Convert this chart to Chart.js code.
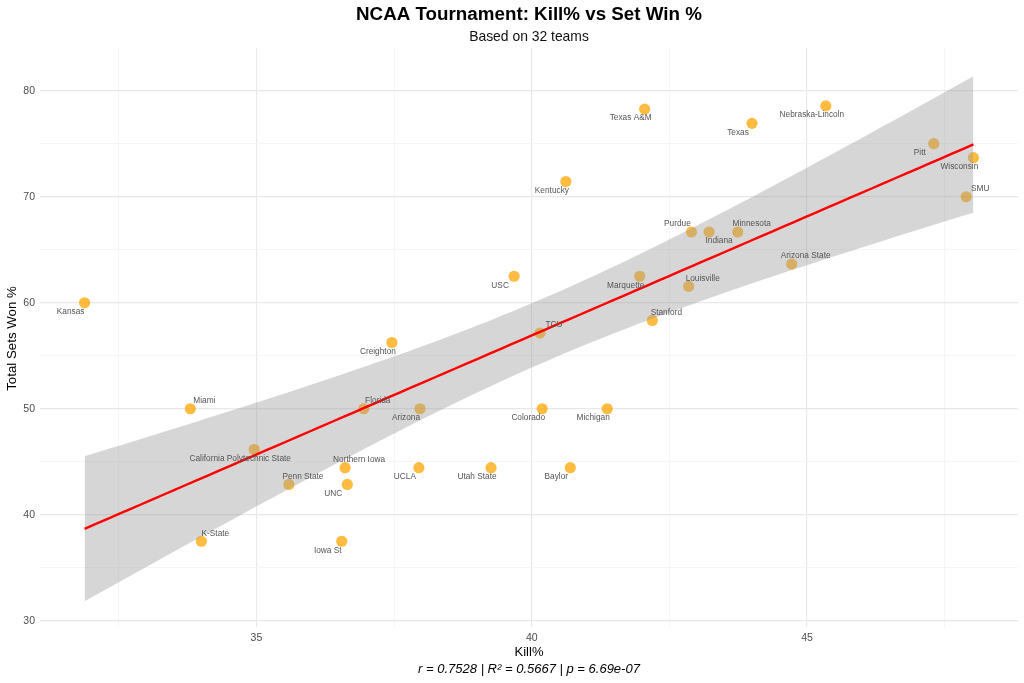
<!DOCTYPE html>
<html>
<head>
<meta charset="utf-8">
<script src="https://cdn.jsdelivr.net/npm/chart.js@4.4.1/dist/chart.umd.min.js"></script>
<style>
  html, body { margin: 0; padding: 0; background: #ffffff; }
  #wrap { width: 1024px; height: 683px; }
  canvas { display: block; }
</style>
</head>
<body>
<div id="wrap"><canvas id="c" width="1024" height="683"></canvas></div>
<script>
// ---------------- DATA ----------------
const teams = [
  "Kansas", "Creighton", "Miami", "California Polytechnic State", "Florida",
  "Northern Iowa", "Penn State", "UNC", "K-State", "Iowa St",
  "Arizona", "Colorado", "Michigan", "UCLA", "Utah State", "Baylor",
  "Texas A&M", "Texas", "Kentucky", "Purdue", "Indiana", "Minnesota",
  "USC", "Marquette", "Louisville", "Stanford", "TCU",
  "Nebraska-Lincoln", "Pitt", "Wisconsin", "SMU", "Arizona State"
];
const killPct = [
  31.88, 37.46, 33.80, 34.96, 36.95,
  36.61, 35.59, 36.65, 34.00, 36.55,
  37.97, 40.19, 41.37, 37.95, 39.26, 40.70,
  42.05, 44.00, 40.62, 42.90, 43.22, 43.74,
  39.68, 41.96, 42.85, 42.19, 40.15,
  45.34, 47.30, 48.02, 47.89, 44.72
];
const setWinPct = [
  60.00, 56.25, 50.00, 46.15, 50.00,
  44.44, 42.86, 42.86, 37.50, 37.50,
  50.00, 50.00, 50.00, 44.44, 44.44, 44.44,
  78.26, 76.92, 71.43, 66.67, 66.67, 66.67,
  62.50, 62.50, 61.54, 58.33, 57.14,
  78.57, 75.00, 73.68, 70.00, 63.64
];
const xTickValues = [32.5, 35, 37.5, 40, 42.5, 45, 47.5];
const xTickLabels = ["", "35", "", "40", "", "45", ""];
const yTickValues = [30, 35, 40, 45, 50, 55, 60, 65, 70, 75, 80];
const yTickLabels = ["30", "", "40", "", "50", "", "60", "", "70", "", "80"];
const titleText = "NCAA Tournament: Kill% vs Set Win %";
const subtitleText = "Based on 32 teams";
const xTitle = "Kill%";
const yTitle = "Total Sets Won %";
const captionText = "r = 0.7528 | R\u00B2 = 0.5667 | p = 6.69e-07";

// label placement (layout only): bl = below-left, tr = above-right, tl = above-left, br = below-right
const labelPlacement = {
  "Miami": "tr", "Florida": "tr", "Northern Iowa": "tr", "Penn State": "tr",
  "K-State": "tr", "Purdue": "tl", "Indiana": "br", "Minnesota": "tr",
  "Louisville": "tr", "Stanford": "tr", "TCU": "tr", "SMU": "tr",
  "Arizona State": "tr"
};

// ---------------- linear fit + 95% CI (computed from data, like geom_smooth(method="lm")) ----------------
const n = killPct.length;
const mx = killPct.reduce((a, b) => a + b, 0) / n;
const my = setWinPct.reduce((a, b) => a + b, 0) / n;
let sxx = 0, sxy = 0;
for (let i = 0; i < n; i++) { sxx += (killPct[i] - mx) ** 2; sxy += (killPct[i] - mx) * (setWinPct[i] - my); }
const slope = sxy / sxx;
const intercept = my - slope * mx;
let sse = 0;
for (let i = 0; i < n; i++) { sse += (setWinPct[i] - (intercept + slope * killPct[i])) ** 2; }
const sigma = Math.sqrt(sse / (n - 2));
const tCrit = 2.0423; // t(0.975, df = 30)
const xMin = Math.min(...killPct), xMax = Math.max(...killPct);
const upper = [], lower = [], fit = [];
const nEval = 80;
for (let k = 0; k < nEval; k++) {
  const x = xMin + (xMax - xMin) * k / (nEval - 1);
  const yhat = intercept + slope * x;
  const se = sigma * Math.sqrt(1 / n + (x - mx) ** 2 / sxx);
  fit.push({ x: x, y: yhat });
  upper.push({ x: x, y: yhat + tCrit * se });
  lower.push({ x: x, y: yhat - tCrit * se });
}

const pts = killPct.map((v, i) => ({ x: v, y: setWinPct[i], label: teams[i] }));

// ---------------- plugins ----------------
const FONT = '"Liberation Sans", Arial, Helvetica, sans-serif';
const textPlugin = {
  id: 'texts',
  afterDatasetsDraw(chart) {
    const ctx = chart.ctx;
    const xs = chart.scales.x, ys = chart.scales.y;
    ctx.save();
    ctx.font = '8.3px ' + FONT;
    ctx.fillStyle = '#555555';
    ctx.textAlign = 'center';
    ctx.textBaseline = 'middle';
    pts.forEach(p => {
      const px = xs.getPixelForValue(p.x), py = ys.getPixelForValue(p.y);
      const pl = labelPlacement[p.label] || 'bl';
      let dx = -14, dy = 9;
      if (pl === 'tr') { dx = 14; dy = -8; }
      else if (pl === 'tl') { dx = -14; dy = -8; }
      else if (pl === 'br') { dx = 10; dy = 9; }
      ctx.fillText(p.label, px + dx, py + dy);
    });
    ctx.restore();
  },
  afterDraw(chart) {
    const ctx = chart.ctx;
    const ca = chart.chartArea;
    const cx = (ca.left + ca.right) / 2;
    const cy = (ca.top + ca.bottom) / 2;
    ctx.save();
    ctx.textAlign = 'center';
    ctx.textBaseline = 'middle';
    ctx.fillStyle = '#000000';
    ctx.font = 'bold 18.8px ' + FONT;
    ctx.fillText(titleText, cx, 15);
    ctx.font = '13.9px ' + FONT;
    ctx.fillStyle = '#111111';
    ctx.fillText(subtitleText, cx, 37);
    ctx.fillStyle = '#000000';
    ctx.font = '13px ' + FONT;
    ctx.fillText(xTitle, cx, 652);
    ctx.font = 'italic 13px ' + FONT;
    ctx.fillText(captionText, cx, 669);
    ctx.translate(12, cy + 1);
    ctx.rotate(-Math.PI / 2);
    ctx.font = '13.3px ' + FONT;
    ctx.fillText(yTitle, 0, 0);
    ctx.restore();
  }
};

const majorX = v => Math.abs(v / 5 - Math.round(v / 5)) < 1e-6;
const majorY = v => Math.abs(v / 10 - Math.round(v / 10)) < 1e-6;

new Chart(document.getElementById('c'), {
  type: 'scatter',
  data: {
    datasets: [
      {
        label: 'teams', data: pts, order: 3,
        pointRadius: 5.6, pointHoverRadius: 5.6,
        backgroundColor: 'rgba(255,165,0,0.75)', borderWidth: 0
      },
      {
        type: 'line', label: 'upper', data: upper, order: 2,
        borderWidth: 0, borderColor: 'rgba(0,0,0,0)', pointRadius: 0,
        fill: '+1', backgroundColor: 'rgba(153,153,153,0.4)', tension: 0
      },
      {
        type: 'line', label: 'lower', data: lower, order: 2,
        borderWidth: 0, borderColor: 'rgba(0,0,0,0)', pointRadius: 0,
        fill: false, tension: 0
      },
      {
        type: 'line', label: 'fit', data: fit, order: 1,
        borderWidth: 2.4, borderColor: '#FF0000', pointRadius: 0,
        fill: false, tension: 0
      }
    ]
  },
  options: {
    responsive: false,
    animation: false,
    devicePixelRatio: 1,
    layout: { padding: { left: 0, right: 6, top: 48, bottom: 0 } },
    plugins: { legend: { display: false }, tooltip: { enabled: false }, title: { display: false } },
    scales: {
      x: {
        type: 'linear', min: 31.07, max: 48.83,
        afterFit: s => { s.height = 56; },
        afterBuildTicks: s => { s.ticks = xTickValues.map(v => ({ value: v })); },
        ticks: {
          padding: 5, color: '#4d4d4d', font: { size: 10.5, family: FONT },
          maxRotation: 0, autoSkip: false,
          callback: (v) => { const i = xTickValues.findIndex(t => Math.abs(t - v) < 1e-6); return i >= 0 ? xTickLabels[i] : ''; }
        },
        grid: {
          drawTicks: false,
          color: c => majorX(c.tick.value) ? '#e8e8e8' : '#f3f3f3',
          lineWidth: c => majorX(c.tick.value) ? 1.2 : 0.8
        },
        border: { display: false }
      },
      y: {
        type: 'linear', min: 29.41, max: 84.03,
        afterFit: s => { s.width = 40; },
        afterBuildTicks: s => { s.ticks = yTickValues.map(v => ({ value: v })); },
        ticks: {
          padding: 5, color: '#4d4d4d', font: { size: 10.5, family: FONT },
          autoSkip: false,
          callback: (v) => { const i = yTickValues.findIndex(t => Math.abs(t - v) < 1e-6); return i >= 0 ? yTickLabels[i] : ''; }
        },
        grid: {
          drawTicks: false,
          color: c => majorY(c.tick.value) ? '#e8e8e8' : '#f3f3f3',
          lineWidth: c => majorY(c.tick.value) ? 1.2 : 0.8
        },
        border: { display: false }
      }
    }
  },
  plugins: [textPlugin]
});
</script>
</body>
</html>
